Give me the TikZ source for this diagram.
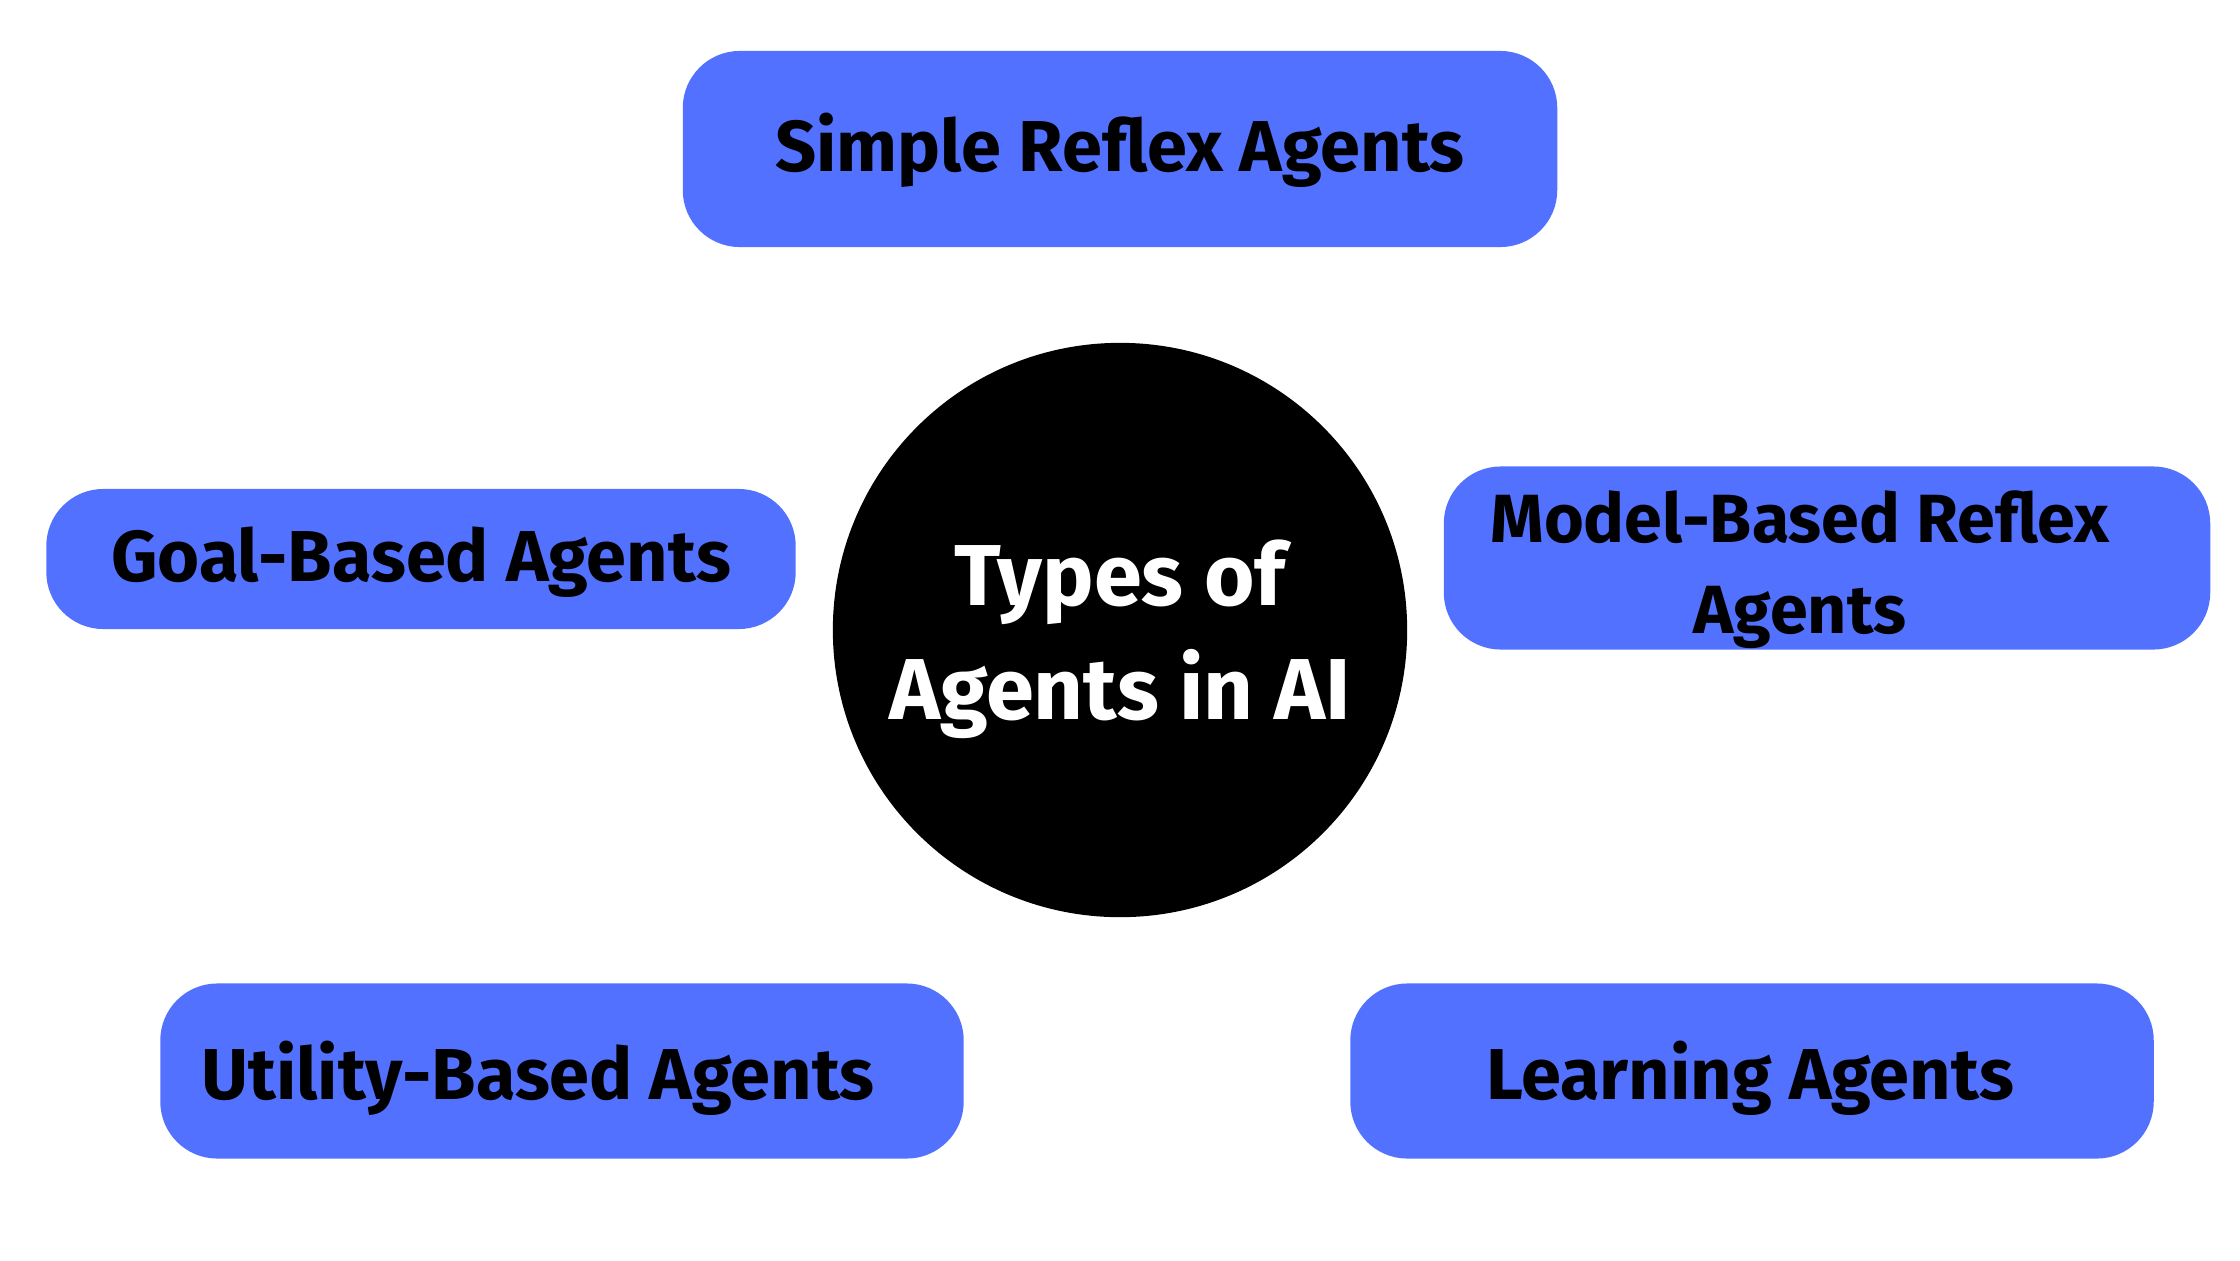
\documentclass[tikz,border=0pt]{standalone}
\usepackage{fontspec}
\setmainfont{Fira Sans}[UprightFont=* Bold]
\usepackage{tikz}
\usetikzlibrary{positioning}

\definecolor{agentblue}{HTML}{5271FF}

\begin{document}
\begin{tikzpicture}[
  x=0.01cm, y=-0.01cm,
  agentbox/.style={fill=agentblue, rounded corners=0.57cm, inner sep=0pt},
  agenttext/.style={font=\fontsize{20.5}{25.3}\selectfont, align=center},
  hub/.style={circle, fill=black, minimum size=5.74cm, inner sep=0pt},
  hubtext/.style={text=white, font=\fontsize{24.6}{32.5}\selectfont, align=center}
]
\useasboundingbox[fill=white] (0,0) rectangle (2240,1260);
\node[hub] (types) at (1120,630) {};
\node[hubtext] (typestxt) at (1120,639) {Types of\\Agents in AI};
% outer boxes
\node[agentbox, minimum width=8.74cm, minimum height=1.96cm] (simple) at (1120,149) {};
\node[agentbox, minimum width=7.49cm, minimum height=1.40cm] (goal) at (421,559) {};
\node[agentbox, minimum width=7.66cm, minimum height=1.83cm] (model) at (1827,558) {};
\node[agentbox, minimum width=8.03cm, minimum height=1.75cm] (utility) at (562,1071) {};
\node[agentbox, minimum width=8.03cm, minimum height=1.75cm] (learning) at (1752,1071) {};
% labels
\node[agenttext] (simpletxt) at (1120,150) {Simple Reflex Agents};
\node[agenttext] (goaltxt) at (421,562) {Goal-Based Agents};
\node[agenttext, font=\fontsize{19.4}{25.8}\selectfont] (modeltxt) at (1800,570) {Model-Based Reflex\\Agents};
\node[agenttext] (utilitytxt) at (538,1078) {Utility-Based Agents};
\node[agenttext] (learningtxt) at (1750,1078) {Learning Agents};
\end{tikzpicture}
\end{document}
